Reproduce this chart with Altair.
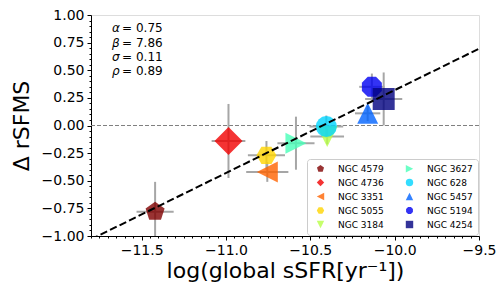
import altair as alt
import pandas as pd

# ---- data ----
names = ["NGC 4579", "NGC 4736", "NGC 3351", "NGC 5055", "NGC 3184",
         "NGC 3627", "NGC 628", "NGC 5457", "NGC 5194", "NGC 4254"]
ssfr = [-11.42, -10.985, -10.755, -10.76, -10.40, -10.585, -10.405, -10.16, -10.135, -10.065]
drsfms = [-0.78, -0.14, -0.42, -0.27, -0.10, -0.16, -0.01, 0.11, 0.35, 0.24]
ssfr_err = [0.11, 0.10, 0.125, 0.11, 0.10, 0.11, 0.10, 0.075, 0.075, 0.11]
drsfms_err = [0.27, 0.335, 0.09, 0.13, 0.07, 0.24, 0.10, 0.07, 0.12, 0.24]
colors = ["#7f0000", "#f10000", "#ff6300", "#ffd400", "#b8ff47",
          "#47ffb8", "#00d4ff", "#0063ff", "#0000f1", "#00007f"]

PENT = "M0,-1L0.951,-0.309L0.588,0.809L-0.588,0.809L-0.951,-0.309Z"
DIAM = "M0,-1L1,0L0,1L-1,0Z"
TRIL = "M-1,0L1,-1L1,1Z"
TRIR = "M1,0L-1,-1L-1,1Z"
TRID = "M0,1L-1,-1L1,-1Z"
TRIU = "M0,-1L1,1L-1,1Z"
HEXA = "M-1,0L-0.5,-0.866L0.5,-0.866L1,0L0.5,0.866L-0.5,0.866Z"
OCTA = ("M0.924,0.383L0.383,0.924L-0.383,0.924L-0.924,0.383L-0.924,-0.383"
        "L-0.383,-0.924L0.383,-0.924L0.924,-0.383Z")
SQUA = "M-1,-1L1,-1L1,1L-1,1Z"
shapes = [PENT, DIAM, TRIL, HEXA, TRID, TRIR, "circle", TRIU, OCTA, SQUA]
sizes = [400, 784, 441, 400, 441, 441, 441, 441, 467, 484]

fit_x = [-11.8, -9.5]
fit_y = [-1.03, 0.695]

ann_greek = ["α", "β", "σ", "ρ"]
ann_vals = ["= 0.75", "= 7.86", "= 0.11", "= 0.89"]
ann_y = [0.878, 0.751, 0.624, 0.497]
ann_x = [-11.675] * 4

x_ticks = [round(-11.8 + 0.05 * i, 2) for i in range(47)]
y_ticks = [round(-1.0 + 0.05 * i, 2) for i in range(41)]

color_of = dict(zip(names, colors))
shape_of = dict(zip(names, shapes))

df = pd.DataFrame({
    "name": names, "x": ssfr, "y": drsfms, "xe": ssfr_err, "ye": drsfms_err, "size": sizes,
})
df["x_lo"] = df["x"] - df["xe"]
df["x_hi"] = df["x"] + df["xe"]
df["y_lo"] = df["y"] - df["ye"]
df["y_hi"] = df["y"] + df["ye"]

FONT = "DejaVu Sans"
xmaj = "abs(datum.value*2 - round(datum.value*2)) < 0.001"
ymaj = "abs(datum.value*4 - round(datum.value*4)) < 0.001"

xscale = alt.Scale(domain=[-11.8, -9.5], nice=False, zero=False)
yscale = alt.Scale(domain=[-1.0, 1.0], nice=False, zero=False)

xaxis = alt.Axis(
    title="log(global sSFR[yr⁻¹])", values=x_ticks,
    labelExpr=f"{xmaj} ? format(datum.value, '.1f') : ''",
    tickSize={"condition": {"test": xmaj, "value": 4}, "value": 2},
    labelOverlap=False, labelFlush=False, grid=False,
    labelFont=FONT, labelFontSize=14, labelColor="black", labelPadding=3,
    titleFont=FONT, titleFontSize=22, titleFontWeight="normal", titleColor="black", titlePadding=3,
    domainColor="black", tickColor="black", tickWidth=1,
)
yaxis = alt.Axis(
    title="Δ rSFMS", values=y_ticks,
    labelExpr=f"{ymaj} ? format(datum.value, '.2f') : ''",
    tickSize={"condition": {"test": ymaj, "value": 4}, "value": 2},
    labelOverlap=False, labelFlush=False, grid=False,
    labelFont=FONT, labelFontSize=14, labelColor="black", labelPadding=3,
    titleFont=FONT, titleFontSize=22, titleFontWeight="normal", titleColor="black", titlePadding=8,
    domainColor="black", tickColor="black", tickWidth=1,
)

base = alt.Chart(df)

zero_line = alt.Chart(pd.DataFrame({"z": [0.0]})).mark_rule(
    color="#808080", strokeWidth=1, strokeDash=[4, 2]
).encode(y=alt.Y("z:Q", scale=yscale, axis=yaxis))

xbars = base.mark_rule(color="#a6a6a6", strokeWidth=2, clip=True).encode(
    x=alt.X("x_lo:Q", scale=xscale, axis=xaxis), x2="x_hi:Q", y=alt.Y("y:Q", scale=yscale, axis=yaxis)
)
ybars = base.mark_rule(color="#a6a6a6", strokeWidth=2, clip=True).encode(
    x=alt.X("x:Q", scale=xscale, axis=xaxis), y=alt.Y("y_lo:Q", scale=yscale, axis=yaxis), y2="y_hi:Q"
)

legend = alt.Legend(
    title=None, orient="none", legendX=216, legendY=144, columns=2,
    symbolSize=55, symbolOpacity=0.8, symbolStrokeWidth=0, symbolOffset=4,
    labelFont=FONT, labelFontSize=9, labelColor="black", labelOffset=13,
    columnPadding=17, rowPadding=4, padding=5,
    strokeColor="#cccccc", fillColor="white", cornerRadius=3,
)

points = base.mark_point(filled=True, opacity=0.8, strokeWidth=0).encode(
    x=alt.X("x:Q", scale=xscale, axis=xaxis),
    y=alt.Y("y:Q", scale=yscale, axis=yaxis),
    color=alt.Color("name:N", legend=legend,
                    scale=alt.Scale(domain=names, range=[color_of[n] for n in names])),
    shape=alt.Shape("name:N", legend=legend,
                    scale=alt.Scale(domain=names, range=[shape_of[n] for n in names])),
    size=alt.Size("size:Q", scale=None),
)

fit = alt.Chart(pd.DataFrame({"fx": fit_x, "fy": fit_y})).mark_line(
    color="black", strokeWidth=2, strokeDash=[7.4, 3.2], clip=True
).encode(x=alt.X("fx:Q", scale=xscale, axis=xaxis), y=alt.Y("fy:Q", scale=yscale, axis=yaxis))

ann = pd.DataFrame({"ax": ann_x, "ay": ann_y, "g": ann_greek, "v": ann_vals})
greek = alt.Chart(ann).mark_text(
    align="left", baseline="middle", font=FONT, fontSize=12, fontStyle="italic", color="black"
).encode(x=alt.X("ax:Q", scale=xscale, axis=xaxis), y=alt.Y("ay:Q", scale=yscale, axis=yaxis), text="g:N")
vals = alt.Chart(ann).mark_text(
    align="left", baseline="middle", font=FONT, fontSize=12, color="black", dx=10
).encode(x=alt.X("ax:Q", scale=xscale, axis=xaxis), y=alt.Y("ay:Q", scale=yscale, axis=yaxis), text="v:N")

chart = alt.layer(zero_line, xbars, ybars, points, fit, greek, vals).properties(
    width=388, height=221,
    autosize=alt.AutoSizeParams(type="none"),
    padding={"left": 83, "top": 7, "right": 17, "bottom": 52},
).configure_view(stroke="black", strokeWidth=1).configure(background="white")

chart.save("out.html", embed_options={"renderer": "svg", "actions": False})
